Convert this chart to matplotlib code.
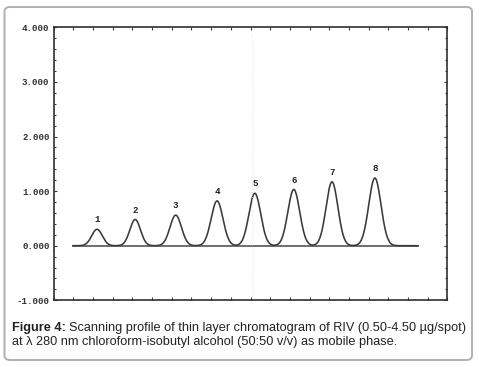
import numpy as np
import matplotlib
matplotlib.use("Agg")
import matplotlib.pyplot as plt
from matplotlib.patches import FancyBboxPatch

# Data
peak_labels = ["1", "2", "3", "4", "5", "6", "7", "8"]
peak_pos = [11.0, 20.7, 31.0, 41.5, 51.1, 61.0, 70.7, 81.6]
peak_height = [0.30, 0.48, 0.56, 0.82, 0.96, 1.03, 1.17, 1.24]
peak_width = [1.35, 1.35, 1.45, 1.5, 1.5, 1.5, 1.5, 1.55]
baseline_start, baseline_end = 4.9, 92.5
y_ticks = [-1.0, 0.0, 1.0, 2.0, 3.0, 4.0]

W, H = 479, 367
fig = plt.figure(figsize=(W / 100, H / 100), dpi=100)
fig.patch.set_facecolor("white")

# outer rounded frame
frame = FancyBboxPatch((4.5 / W, 7 / H), (472 - 4.5) / W, (360 - 7) / H,
                       boxstyle="round,pad=0,rounding_size=0.012",
                       transform=fig.transFigure, facecolor="none",
                       edgecolor="#b0b0b0", linewidth=1.4, zorder=5)
fig.patches.append(frame)

ax_l, ax_r, ax_t, ax_b = 53.7, 447.3, 27.3, 300.3
ax = fig.add_axes([ax_l / W, 1 - ax_b / H, (ax_r - ax_l) / W, (ax_b - ax_t) / H])
ax.set_facecolor("none")

ink = "#3a3a3a"
x = np.linspace(baseline_start, baseline_end, 3000)
y = np.zeros_like(x)
for p, h, w in zip(peak_pos, peak_height, peak_width):
    y += h * np.exp(-0.5 * ((x - p) / w) ** 2)
ax.plot([baseline_start, baseline_end], [0, 0], color="#4a5a55", lw=1.2)
ax.plot(x, y, color=ink, lw=1.15)

for lab, p, h in zip(peak_labels, peak_pos, peak_height):
    ax.text(p, h + 0.09, lab, ha="center", va="bottom", fontsize=6.6,
            family="Liberation Mono", fontweight="bold", color="#222222")

# faint dotted scan line
ax.axvline(50.4, color="#dddddd", lw=0.6, ls=(0, (1, 2)), ymin=0.02, ymax=0.98)

ax.set_xlim(0, 100)
ax.set_ylim(-1.0, 4.0)
ax.set_yticks(y_ticks)
ax.set_yticklabels([f"{v:.3f}" for v in y_ticks], family="Liberation Mono",
                   fontweight="bold", fontsize=6.6, color="#333333")
ax.set_yticks(np.arange(-1.0, 4.01, 0.2), minor=True)
ax.set_xticks(np.arange(0, 100.1, 5))
ax.set_xticklabels([])
ax.tick_params(axis="y", which="both", direction="in", length=2, width=0.8,
               color=ink, pad=3, right=True)
ax.tick_params(axis="y", which="minor", length=1.5)
ax.tick_params(axis="x", which="both", direction="in", length=2, width=0.8,
               color=ink, top=True)
for s in ax.spines.values():
    s.set_color("#303030")
    s.set_linewidth(1.2)

# caption with mixed weight
fs = 9.2
t1 = fig.text(12 / W, 1 - 328 / H, "Figure 4:", fontsize=fs, family="Liberation Sans",
              fontweight="bold", va="center", ha="left", color="#222222")
fig.canvas.draw()
bb = t1.get_window_extent()
fig.text((bb.x1 + 3) / W, 1 - 328 / H,
         "Scanning profile of thin layer chromatogram of RIV (0.50-4.50 µg/spot)",
         fontsize=fs, family="Liberation Sans", va="center", ha="left", color="#222222")
fig.text(12 / W, 1 - 342.5 / H,
         "at λ 280 nm chloroform-isobutyl alcohol (50:50 v/v) as mobile phase.",
         fontsize=fs, family="Liberation Sans", va="center", ha="left", color="#222222")

fig.savefig("out.png", dpi=100, facecolor="white")
